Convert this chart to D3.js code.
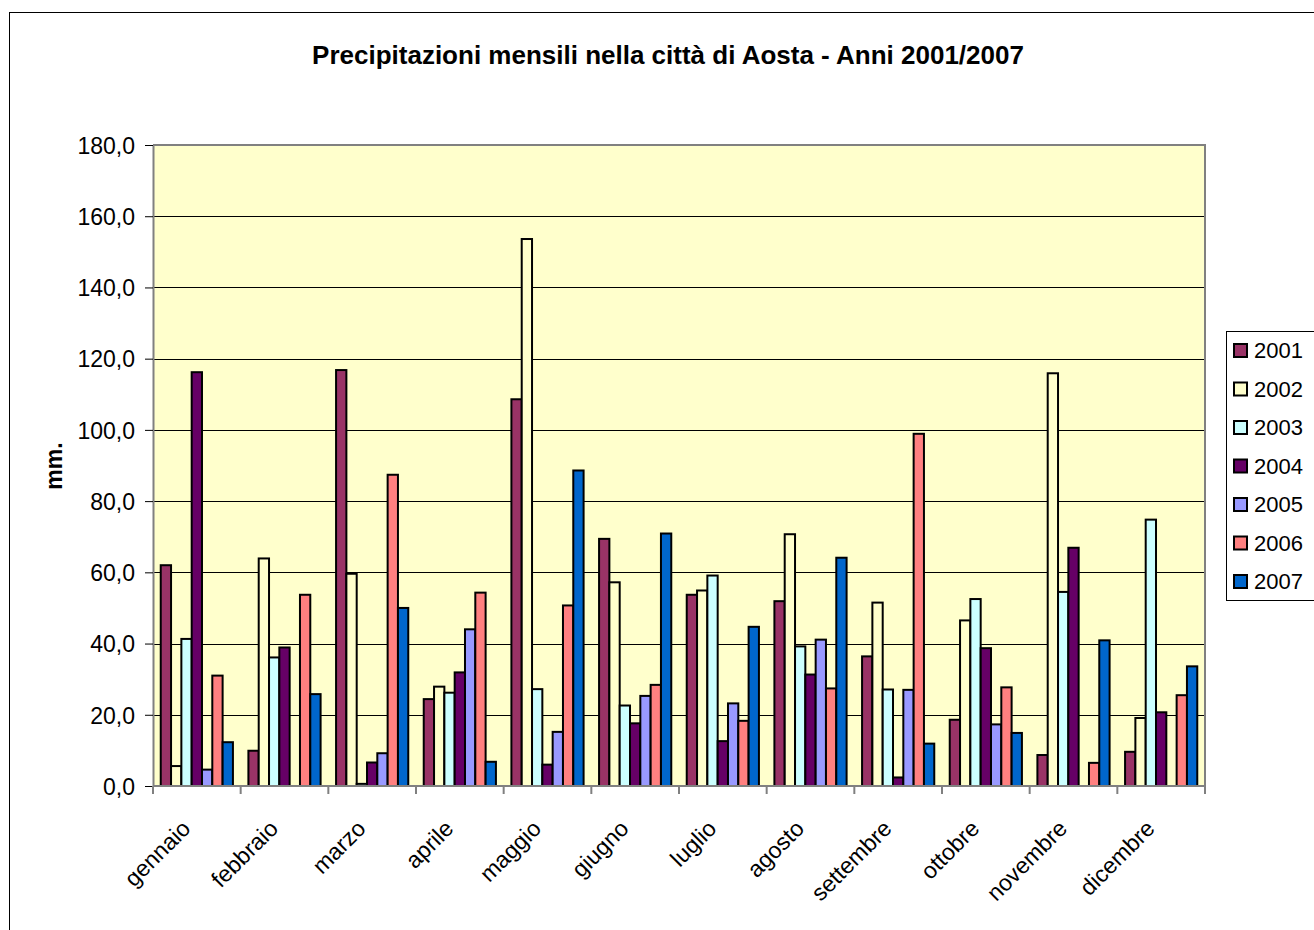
<!DOCTYPE html>
<html>
<head>
<meta charset="utf-8">
<script src="https://cdn.jsdelivr.net/npm/d3@7"></script>
<style>
	body { margin: 0; background: #fff; }
	text { font-family: "Liberation Sans", Arial, sans-serif; }
</style>
</head>
<body>
<script>
// Months on the x axis
const months = ["gennaio", "febbraio", "marzo", "aprile", "maggio", "giugno",
	"luglio", "agosto", "settembre", "ottobre", "novembre", "dicembre"];

// Series (years) and their colours
const years = ["2001", "2002", "2003", "2004", "2005", "2006", "2007"];
const colors = ["#993366", "#FFFFCC", "#CCFFFF", "#660066", "#9999FF", "#FF8080", "#0066CC"];

// Monthly rainfall in mm, one array per year
const rain2001 = [62.0, 9.9, 116.8, 24.4, 108.6, 69.4, 53.7, 51.9, 36.4, 18.6, 8.7, 9.6];
const rain2002 = [5.6, 63.9, 59.6, 27.9, 153.6, 57.2, 54.9, 70.7, 51.5, 46.5, 115.9, 19.1];
const rain2003 = [41.3, 36.1, 0.6, 26.2, 27.2, 22.6, 59.1, 39.2, 27.1, 52.5, 54.5, 74.8];
const rain2004 = [116.2, 38.9, 6.6, 31.9, 6.0, 17.6, 12.6, 31.3, 2.4, 38.7, 66.9, 20.7];
const rain2005 = [4.6, 0, 9.2, 44.0, 15.2, 25.3, 23.2, 41.1, 27.0, 17.3, 0, 0];
const rain2006 = [31.0, 53.7, 87.4, 54.3, 50.7, 28.4, 18.3, 27.4, 98.9, 27.7, 6.5, 25.5];
const rain2007 = [12.3, 25.8, 50.0, 6.8, 88.6, 70.9, 44.7, 64.1, 11.9, 14.9, 40.9, 33.6];

// Y axis ticks
const yTicks = [0, 20, 40, 60, 80, 100, 120, 140, 160, 180];

const series = [rain2001, rain2002, rain2003, rain2004, rain2005, rain2006, rain2007];

const width = 1314;
const height = 930;
const plot = { left: 153, top: 145, right: 1205, bottom: 786 };

const itFormat = d3.formatLocale({ decimal: ",", thousands: ".", grouping: [3], currency: ["", "€"] }).format(".1f");

const svg = d3.select("body").append("svg").attr("width", width).attr("height", height);

// Outer chart border
svg.append("rect")
	.attr("x", 9.5).attr("y", 12.5)
	.attr("width", 1320).attr("height", 940)
	.attr("fill", "#fff").attr("stroke", "#000").attr("stroke-width", 1);

// Title
svg.append("text")
	.attr("x", 668).attr("y", 64)
	.attr("text-anchor", "middle")
	.attr("font-size", 26).attr("font-weight", "bold")
	.text("Precipitazioni mensili nella città di Aosta - Anni 2001/2007");

// Scales
const x0 = d3.scaleBand().domain(months).range([plot.left, plot.right]).padding(0);
const x1 = d3.scaleBand().domain(years).range([0, x0.bandwidth()]).paddingInner(0).paddingOuter(0.75);
const y = d3.scaleLinear().domain([0, 180]).range([plot.bottom, plot.top]);
const color = d3.scaleOrdinal().domain(years).range(colors);

// Plot background
svg.append("rect")
	.attr("x", plot.left).attr("y", plot.top)
	.attr("width", plot.right - plot.left).attr("height", plot.bottom - plot.top)
	.attr("fill", "#FFFFCC");

// Gridlines
svg.append("g")
	.selectAll("line")
	.data(yTicks.filter((d) => d > 0 && d < 180))
	.enter()
	.append("line")
	.attr("x1", plot.left).attr("x2", plot.right)
	.attr("y1", (d) => Math.round(y(d)) + 0.5).attr("y2", (d) => Math.round(y(d)) + 0.5)
	.attr("stroke", "#000").attr("stroke-width", 1);

// Plot border (top and right)
svg.append("path")
	.attr("d", `M${plot.left},${plot.top}H${plot.right}V${plot.bottom}`)
	.attr("fill", "none").attr("stroke", "#808080").attr("stroke-width", 2);

// Bars
const rows = months.map((m, i) => ({ month: m, values: years.map((yr, j) => ({ year: yr, value: series[j][i] })) }));

svg.append("g")
	.selectAll("g")
	.data(rows)
	.enter()
	.append("g")
	.attr("transform", (d) => `translate(${x0(d.month)},0)`)
	.selectAll("rect")
	.data((d) => d.values.filter((v) => v.value > 0))
	.enter()
	.append("rect")
	.attr("x", (d) => x1(d.year))
	.attr("y", (d) => y(d.value))
	.attr("width", x1.bandwidth())
	.attr("height", (d) => y(0) - y(d.value))
	.attr("fill", (d) => color(d.year))
	.attr("stroke", "#000")
	.attr("stroke-width", 2);

// Y axis
const yAxis = svg.append("g")
	.attr("transform", `translate(${plot.left},0)`)
	.call(d3.axisLeft(y).tickValues(yTicks).tickFormat(itFormat).tickSize(8).tickSizeOuter(0));
yAxis.select(".domain").attr("stroke", "#808080").attr("stroke-width", 2);
yAxis.selectAll(".tick line").attr("stroke", "#000");
yAxis.selectAll(".tick text")
	.attr("font-size", 23).attr("font-family", "Liberation Sans, Arial, sans-serif")
	.attr("fill", "#000").attr("x", -18).attr("dy", "0.36em");

// X axis: ticks at category boundaries
const xAxis = svg.append("g")
	.attr("transform", `translate(0,${plot.bottom})`);
xAxis.append("line")
	.attr("x1", plot.left).attr("x2", plot.right)
	.attr("stroke", "#808080").attr("stroke-width", 2);
xAxis.selectAll(".xtick")
	.data(months.concat(["end"]))
	.enter()
	.append("line")
	.attr("class", "xtick")
	.attr("x1", (d, i) => (i < months.length ? x0(d) : plot.right))
	.attr("x2", (d, i) => (i < months.length ? x0(d) : plot.right))
	.attr("y1", 0).attr("y2", 8)
	.attr("stroke", "#808080").attr("stroke-width", 2);
xAxis.selectAll(".xlabel")
	.data(months)
	.enter()
	.append("text")
	.attr("class", "xlabel")
	.attr("transform", (d) => `translate(${x0(d) + x0.bandwidth() / 2 - 5},44) rotate(-45)`)
	.attr("text-anchor", "end")
	.attr("font-size", 23)
	.text((d) => d);

// Y axis title
svg.append("text")
	.attr("transform", "translate(62,466) rotate(-90)")
	.attr("text-anchor", "middle")
	.attr("font-size", 23).attr("font-weight", "bold")
	.text("mm.");

// Legend
const legend = svg.append("g").attr("transform", "translate(1226,331)");
legend.append("rect")
	.attr("x", 0.5).attr("y", 0.5)
	.attr("width", 120).attr("height", 269)
	.attr("fill", "#fff").attr("stroke", "#000").attr("stroke-width", 1);
const item = legend.selectAll(".item")
	.data(years)
	.enter()
	.append("g")
	.attr("class", "item")
	.attr("transform", (d, i) => `translate(0,${19 + i * 38.5})`);
item.append("rect")
	.attr("x", 8).attr("y", -6)
	.attr("width", 13).attr("height", 13)
	.attr("fill", (d) => color(d))
	.attr("stroke", "#000").attr("stroke-width", 2);
item.append("text")
	.attr("x", 28).attr("y", 8)
	.attr("font-size", 22)
	.text((d) => d);
</script>
</body>
</html>
